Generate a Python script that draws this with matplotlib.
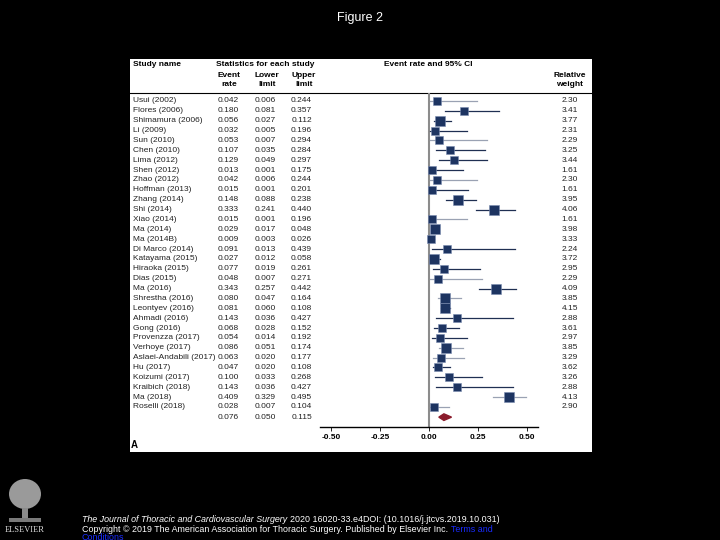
import matplotlib
matplotlib.use("Agg")
import matplotlib.pyplot as plt
import matplotlib.patches as mpatches
import matplotlib.transforms as mtransforms
import numpy as np

plt.rcParams['font.family'] = ['Liberation Sans', 'DejaVu Sans']

W, H = 720, 540

studies = ["Usui (2002)", "Flores (2006)", "Shimamura (2006)", "Li (2009)", "Sun (2010)",
           "Chen (2010)", "Lima (2012)", "Shen (2012)", "Zhao (2012)", "Hoffman (2013)",
           "Zhang (2014)", "Shi (2014)", "Xiao (2014)", "Ma (2014)", "Ma (2014B)",
           "Di Marco (2014)", "Katayama (2015)", "Hiraoka (2015)", "Dias (2015)", "Ma (2016)",
           "Shrestha (2016)", "Leontyev (2016)", "Ahmadi (2016)", "Gong (2016)",
           "Provenzza (2017)", "Verhoye (2017)", "Aslaei-Andabili (2017)", "Hu (2017)",
           "Koizumi (2017)", "Kraibich (2018)", "Ma (2018)", "Roselli (2018)"]
event_rate = [0.042, 0.180, 0.056, 0.032, 0.053, 0.107, 0.129, 0.013, 0.042, 0.015,
              0.148, 0.333, 0.015, 0.029, 0.009, 0.091, 0.027, 0.077, 0.048, 0.343,
              0.080, 0.081, 0.143, 0.068, 0.054, 0.086, 0.063, 0.047, 0.100, 0.143,
              0.409, 0.028]
lower = [0.006, 0.081, 0.027, 0.005, 0.007, 0.035, 0.049, 0.001, 0.006, 0.001,
         0.088, 0.241, 0.001, 0.017, 0.003, 0.013, 0.012, 0.019, 0.007, 0.257,
         0.047, 0.060, 0.036, 0.028, 0.014, 0.051, 0.020, 0.020, 0.033, 0.036,
         0.329, 0.007]
upper = [0.244, 0.357, 0.112, 0.196, 0.294, 0.284, 0.297, 0.175, 0.244, 0.201,
         0.238, 0.440, 0.196, 0.048, 0.026, 0.439, 0.058, 0.261, 0.271, 0.442,
         0.164, 0.108, 0.427, 0.152, 0.192, 0.174, 0.177, 0.108, 0.268, 0.427,
         0.495, 0.104]
weight = [2.30, 3.41, 3.77, 2.31, 2.29, 3.25, 3.44, 1.61, 2.30, 1.61,
          3.95, 4.06, 1.61, 3.98, 3.33, 2.24, 3.72, 2.95, 2.29, 4.09,
          3.85, 4.15, 2.88, 3.61, 2.97, 3.85, 3.29, 3.62, 3.26, 2.88,
          4.13, 2.90]
# lighter CI lines seen on some rows
light_line = [1, 0, 0, 0, 1, 0, 0, 0, 1, 0, 0, 0, 1, 0, 0, 0,
              0, 0, 1, 0, 1, 0, 0, 0, 0, 1, 1, 0, 0, 0, 1, 1]
summary = (0.076, 0.050, 0.115)
xticks = [-0.50, -0.25, 0.00, 0.25, 0.50]


def fx(x):
    return x / W


def fy(y):
    return 1 - y / H


fig = plt.figure(figsize=(7.2, 5.4), dpi=100, facecolor='black')

# white panel (behind the axes)
fig.patches.append(mpatches.Rectangle((fx(130), fy(452)), fx(592) - fx(130), fy(59) - fy(452),
                                      transform=fig.transFigure, facecolor='white',
                                      edgecolor='none', zorder=-5))

# forest axes: x pixel 320..538, y pixel 93..427
ax = fig.add_axes([fx(320), fy(427), fx(538) - fx(320), fy(93) - fy(427)])
ax.set_facecolor('none')
ax.set_zorder(2)
x0, scale = 429, 196.0
ax.set_xlim((320 - x0) / scale, (538 - x0) / scale)
ax.set_ylim(427, 93)

row0, step = 101, 9.87
rows = [row0 + i * step for i in range(len(studies))]
sum_y = row0 + len(studies) * step + 0.3

ax.axvline(0, color='#8c8c8c', lw=1.5, zorder=1)
for y, e, lo, hi, w, lt in zip(rows, event_rate, lower, upper, weight, light_line):
    ax.plot([lo, hi], [y, y], color='#9aa2b3' if lt else '#1f2f52', lw=0.9, zorder=2)
    side = 6.6 + 0.65 * w
    ax.plot(e, y, marker='s', ms=side * 0.72, mfc='#1d3461', mec='#7a8bb0', mew=0.4, zorder=3)

e, lo, hi = summary
ax.add_patch(mpatches.Polygon([[lo, sum_y], [e, sum_y - 3.3], [hi, sum_y], [e, sum_y + 3.3]],
                              closed=True, facecolor='#8b1c2c', edgecolor='#8b1c2c', zorder=3))

for s in ['top', 'left', 'right']:
    ax.spines[s].set_visible(False)
ax.spines['bottom'].set_linewidth(1.0)
ax.set_yticks([])
ax.set_xticks(xticks)
ax.set_xticklabels(['%.2f' % t for t in xticks], fontsize=6, fontweight='bold')
ax.tick_params(axis='x', length=3, width=0.6, pad=2)

# header
fig.add_artist(plt.Line2D([fx(130), fx(592)], [fy(93), fy(93)], color='black', lw=0.8))
hdr = dict(fontsize=6, fontweight='bold', color='black')
fig.text(fx(133), fy(64), "Study name", ha='left', va='center', **hdr)
fig.text(fx(265), fy(64), "Statistics for each study", ha='center', va='center', **hdr)
fig.text(fx(229), fy(80), "Event\nrate", ha='center', va='center', linespacing=1.5, **hdr)
fig.text(fx(267), fy(80), "Lower\nlimit", ha='center', va='center', linespacing=1.5, **hdr)
fig.text(fx(304), fy(80), "Upper\nlimit", ha='center', va='center', linespacing=1.5, **hdr)
fig.text(fx(428), fy(64), "Event rate and 95% CI", ha='center', va='center', **hdr)
fig.text(fx(570), fy(80), "Relative\nweight", ha='center', va='center', linespacing=1.5, **hdr)

# table columns
tr = mtransforms.blended_transform_factory(fig.transFigure, ax.transData)
cell = dict(fontsize=6, color='#222222', va='center', transform=tr, clip_on=False)
for y, name, e, lo, hi, w in zip(rows, studies, event_rate, lower, upper, weight):
    fig.text(fx(133), 0, name, ha='left', **cell).set_y(y)
    fig.text(fx(239), 0, '%.3f' % e, ha='right', **cell).set_y(y)
    fig.text(fx(276), 0, '%.3f' % lo, ha='right', **cell).set_y(y)
    fig.text(fx(312), 0, '%.3f' % hi, ha='right', **cell).set_y(y)
    fig.text(fx(578), 0, '%.2f' % w, ha='right', **cell).set_y(y)
e, lo, hi = summary
fig.text(fx(239), 0, '%.3f' % e, ha='right', **cell).set_y(sum_y)
fig.text(fx(276), 0, '%.3f' % lo, ha='right', **cell).set_y(sum_y)
fig.text(fx(312), 0, '%.3f' % hi, ha='right', **cell).set_y(sum_y)

fig.text(fx(131), fy(445), "A", ha='left', va='center', fontsize=7, fontweight='bold')

# slide title and footer
fig.text(0.5, fy(18), "Figure 2", ha='center', va='center', color='white', fontsize=9)
fs = 6.4
ft = dict(va='center', color='white', fontsize=fs)
renderer = fig.canvas.get_renderer()
t1 = fig.text(fx(82), fy(519), "The Journal of Thoracic and Cardiovascular Surgery",
              ha='left', style='italic', **ft)
x_end = t1.get_window_extent(renderer).x1
fig.text(x_end / W + fx(3), fy(519), "2020 16020-33.e4DOI: (10.1016/j.jtcvs.2019.10.031)",
         ha='left', **ft)
t2 = fig.text(fx(82), fy(529.5), "Copyright \u00a9 2019 The American Association for Thoracic Surgery. Published by Elsevier Inc.",
              ha='left', **ft)
x_end = t2.get_window_extent(renderer).x1
fig.text(x_end / W + fx(3), fy(529.5), "Terms and", ha='left', va='center', color='#1a2cff', fontsize=fs)
fig.text(fx(82), fy(537), "Conditions", ha='left', va='center', color='#1a2cff', fontsize=fs)

# Elsevier logo (rough stand-in)
fig.patches.append(mpatches.Ellipse((fx(25), fy(494)), fx(32), fy(0) - fy(30),
                                    transform=fig.transFigure, facecolor='#9a9a9a',
                                    edgecolor='none'))
fig.patches.append(mpatches.Rectangle((fx(22), fy(522)), fx(6), fy(0) - fy(14),
                                      transform=fig.transFigure, facecolor='#8a8a8a',
                                      edgecolor='none'))
fig.patches.append(mpatches.Rectangle((fx(9), fy(522)), fx(32), fy(0) - fy(4),
                                      transform=fig.transFigure, facecolor='#7a7a7a',
                                      edgecolor='none'))
fig.text(fx(25), fy(530), "ELSEVIER", ha='center', va='center', color='#dddddd',
         fontsize=6, family=['Liberation Serif', 'DejaVu Serif'])

fig.savefig('out.png', dpi=100, facecolor='black')
